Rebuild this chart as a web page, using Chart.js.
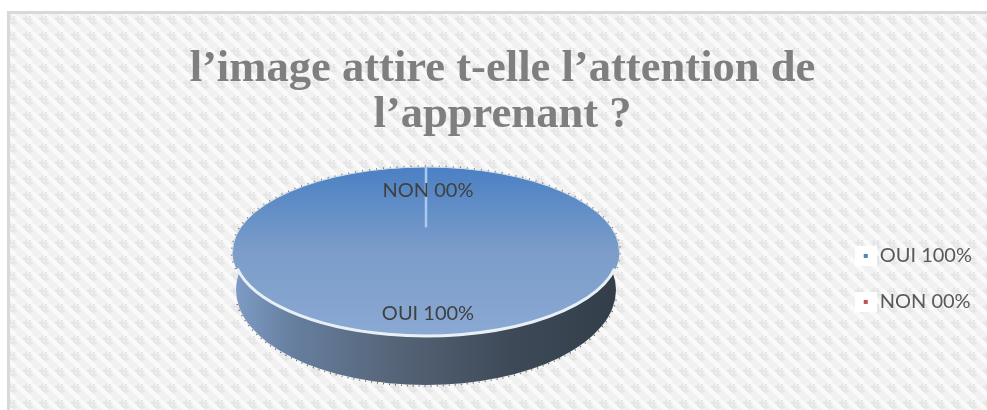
<!DOCTYPE html>
<html>
<head>
<meta charset="utf-8">
<script src="https://cdn.jsdelivr.net/npm/chart.js@4"></script>
<style>
  html, body { margin: 0; padding: 0; background: #fff; }
  canvas { display: block; }
</style>
</head>
<body>
<canvas id="chart" width="987" height="410"></canvas>
<script>
var categories = ["OUI", "NON"];
var values = [100, 0];
var valueLabels = ["100%", "00%"];
var legendColors = ["#4f81bd", "#c0504d"];
var titleLines = ["l’image attire t-elle l’attention de", "l’apprenant ?"];

// where the tilted pie sits on the page
var PIE_X = 426, PIE_Y = 252, PIE_RX = 193.5, PIE_RY = 85;
var WALL_Y = 290, WALL_RX = 190, WALL_RY = 95;

function labelFor(i) {
  return categories[i] + " " + valueLabels[i];
}

// background weave, one tile repeated
function makeTile() {
  var c = document.createElement("canvas");
  c.width = 16;
  c.height = 16;
  var t = c.getContext("2d");
  t.fillStyle = "#f1f1f1";
  t.fillRect(0, 0, 16, 16);
  // small hash mark between the diagonals, drawn twice so it wraps
  t.fillStyle = "#e6e6e6";
  [0, -16].forEach(function (dx) {
    t.fillRect(9 + dx, 0, 2, 9);
    t.fillRect(13 + dx, 0, 2, 9);
    t.fillRect(7 + dx, 2, 10, 2);
    t.fillRect(7 + dx, 6, 10, 2);
  });
  t.strokeStyle = "#fafafa";
  t.lineWidth = 4.5;
  for (var i = -16; i <= 16; i += 16) {
    t.beginPath();
    t.moveTo(i, 0);
    t.lineTo(i + 16, 16);
    t.stroke();
  }
  return c;
}

// legend marker: tiny coloured square on a white patch
function makeMarker(color) {
  var c = document.createElement("canvas");
  c.width = 22;
  c.height = 20;
  var t = c.getContext("2d");
  t.fillStyle = "#ffffff";
  t.fillRect(0, 0, 22, 20);
  t.fillStyle = color;
  t.fillRect(9, 8, 4, 4);
  return c;
}

var pageBackground = {
  id: "pageBackground",
  beforeDraw: function (chart) {
    var ctx = chart.ctx;
    ctx.save();
    ctx.fillStyle = "#ffffff";
    ctx.fillRect(0, 0, chart.width, chart.height);
    ctx.fillStyle = ctx.createPattern(makeTile(), "repeat");
    ctx.fillRect(7, 11, chart.width - 7, chart.height - 11);
    ctx.fillStyle = "#d9d9d9";
    ctx.fillRect(7, 11, chart.width - 7, 3);
    ctx.fillRect(7, 11, 3, chart.height - 11);
    ctx.restore();
  }
};

var tiltedPie = {
  id: "tiltedPie",
  beforeDatasetsDraw: function (chart) {
    var ctx = chart.ctx;
    var arc = chart.getDatasetMeta(0).data[0];

    // side wall
    ctx.save();
    var wall = ctx.createLinearGradient(PIE_X - WALL_RX, 0, PIE_X + WALL_RX, 0);
    wall.addColorStop(0, "#7d9bc4");
    wall.addColorStop(0.15, "#667f9f");
    wall.addColorStop(0.42, "#566478");
    wall.addColorStop(0.72, "#3e4a58");
    wall.addColorStop(1, "#333e4a");
    ctx.fillStyle = wall;
    ctx.beginPath();
    ctx.ellipse(PIE_X, WALL_Y, WALL_RX, WALL_RY, 0, 0, Math.PI * 2);
    ctx.fill();
    ctx.setLineDash([1, 5]);
    ctx.lineWidth = 1.5;
    ctx.strokeStyle = "rgba(40,40,40,0.7)";
    ctx.beginPath();
    ctx.ellipse(PIE_X, WALL_Y, WALL_RX + 1, WALL_RY + 1, 0, 0.1, Math.PI - 0.1);
    ctx.stroke();
    ctx.restore();

    // squash the library's circle into the ellipse
    ctx.save();
    ctx.translate(PIE_X, PIE_Y);
    ctx.scale(PIE_RX / arc.outerRadius, PIE_RY / arc.outerRadius);
    ctx.translate(-arc.x, -arc.y);
  },
  afterDatasetsDraw: function (chart) {
    var ctx = chart.ctx;
    ctx.restore();
    var arcs = chart.getDatasetMeta(0).data;

    ctx.save();
    // rim
    ctx.lineWidth = 3;
    ctx.strokeStyle = "#e8f0f6";
    ctx.beginPath();
    ctx.ellipse(PIE_X, PIE_Y, PIE_RX - 1, PIE_RY - 1, 0, 0.2, Math.PI - 0.2);
    ctx.stroke();
    ctx.lineWidth = 1;
    ctx.strokeStyle = "#cfdde9";
    ctx.beginPath();
    ctx.ellipse(PIE_X, PIE_Y, PIE_RX, PIE_RY, 0, Math.PI, Math.PI * 2);
    ctx.stroke();
    ctx.setLineDash([1, 6]);
    ctx.lineWidth = 1.5;
    ctx.strokeStyle = "rgba(40,40,40,0.6)";
    ctx.beginPath();
    ctx.ellipse(PIE_X, PIE_Y, PIE_RX + 1, PIE_RY + 1, 0, Math.PI - 0.2, Math.PI * 2 + 0.2);
    ctx.stroke();
    ctx.setLineDash([]);

    // the empty NON slice only shows as a light seam
    var seam = arcs[1].startAngle;
    ctx.lineWidth = 2.5;
    ctx.strokeStyle = "#a9c9f0";
    ctx.beginPath();
    ctx.moveTo(PIE_X + Math.cos(seam) * PIE_RX, PIE_Y + Math.sin(seam) * PIE_RY);
    ctx.lineTo(PIE_X + Math.cos(seam) * PIE_RX * 0.29, PIE_Y + Math.sin(seam) * PIE_RY * 0.29);
    ctx.stroke();

    // data labels
    ctx.fillStyle = "#404040";
    ctx.font = "20px Lato";
    ctx.textAlign = "center";
    ctx.textBaseline = "middle";
    arcs.forEach(function (arc, i) {
      var mid = (arc.startAngle + arc.endAngle) / 2;
      ctx.fillText(labelFor(i), PIE_X + 2 + Math.cos(mid) * PIE_RX * 0.72, PIE_Y + Math.sin(mid) * PIE_RY * 0.72);
    });
    ctx.restore();
  }
};

new Chart(document.getElementById("chart"), {
  type: "pie",
  data: {
    labels: categories.map(function (c, i) { return labelFor(i); }),
    datasets: [{
      data: values,
      borderWidth: 0,
      backgroundColor: function (context) {
        var area = context.chart.chartArea;
        if (!area) return legendColors[0];
        var g = context.chart.ctx.createLinearGradient(0, area.top, 0, area.bottom);
        g.addColorStop(0, "#4a80c4");
        g.addColorStop(0.5, "#7c9dc9");
        g.addColorStop(1, "#8aa9d4");
        return g;
      }
    }]
  },
  options: {
    responsive: false,
    animation: false,
    layout: { padding: { left: 23, right: 5, top: 0, bottom: 0 } },
    plugins: {
      tooltip: { enabled: false },
      title: {
        display: true,
        text: titleLines,
        color: "#7f7f7f",
        font: { family: "'Liberation Serif'", size: 44.6, weight: "bold", lineHeight: 1.04 },
        padding: { top: 46, bottom: 9 }
      },
      legend: {
        position: "right",
        fullSize: false,
        labels: {
          color: "#595959",
          font: { family: "Lato", size: 20 },
          usePointStyle: true,
          boxWidth: 8,
          padding: 26,
          generateLabels: function () {
            return categories.map(function (c, i) {
              return { text: labelFor(i), fontColor: "#595959", pointStyle: makeMarker(legendColors[i]), index: i, hidden: false, lineWidth: 0 };
            });
          }
        }
      }
    }
  },
  plugins: [pageBackground, tiltedPie]
});
</script>
</body>
</html>
